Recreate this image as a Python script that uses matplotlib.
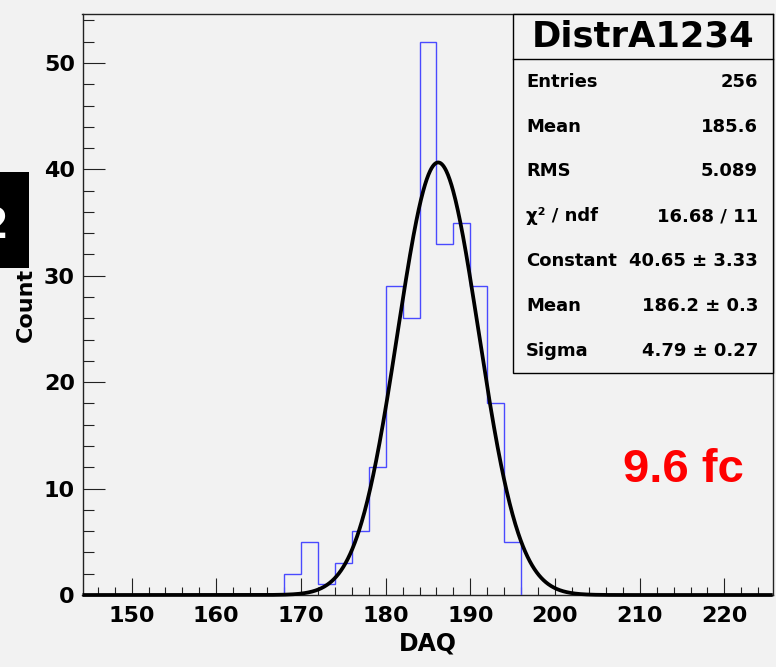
import numpy as np
import matplotlib
matplotlib.use("Agg")
import matplotlib.pyplot as plt
from matplotlib.patches import Rectangle
from matplotlib.ticker import MultipleLocator

# ---------------- data ----------------
bin_edges = [168, 170, 172, 174, 176, 178, 180, 182, 184, 186, 188, 190, 192, 194, 196]
counts = [2, 5, 1, 3, 6, 12, 29, 26, 52, 33, 35, 29, 18, 5]

fit_constant = 40.65
fit_mean = 186.2
fit_sigma = 4.79

stats_title = "DistrA1234"
stats_labels = ["Entries", "Mean", "RMS", "χ² / ndf", "Constant", "Mean", "Sigma"]
stats_values = ["256", "185.6", "5.089", "16.68 / 11", "40.65 ± 3.33", "186.2 ± 0.3", "4.79 ± 0.27"]

x_label = "DAQ"
y_label = "Count"
annotation = "9.6 fc"

x_range = (144.2, 225.7)
y_range = (0, 54.6)

# ---------------- figure ----------------
W, H = 776, 667
bg = "#f2f2f2"
fig = plt.figure(figsize=(W / 100, H / 100), dpi=100, facecolor=bg)
ax = fig.add_axes([82.5 / W, 72 / H, 690.2 / W, 581 / H], facecolor=bg)

ax.set_xlim(*x_range)
ax.set_ylim(*y_range)

# histogram
ax.stairs(counts, bin_edges, color="#4a4aff", lw=1.0, zorder=3)

# gaussian fit curve
xs = np.linspace(x_range[0], x_range[1], 1200)
ys = fit_constant * np.exp(-0.5 * ((xs - fit_mean) / fit_sigma) ** 2)
ax.plot(xs, ys, color="black", lw=2.7, zorder=4, solid_capstyle="butt", clip_on=False)

# ticks
ax.xaxis.set_major_locator(MultipleLocator(10))
ax.xaxis.set_minor_locator(MultipleLocator(2))
ax.yaxis.set_major_locator(MultipleLocator(10))
ax.yaxis.set_minor_locator(MultipleLocator(2))
ax.tick_params(axis="x", which="major", direction="in", length=12, width=0.8,
               color="#222222", pad=8, labelsize=16)
ax.tick_params(axis="x", which="minor", direction="in", length=6, width=0.8, color="#222222")
ax.tick_params(axis="y", which="major", direction="in", length=15.5, width=0.8,
               color="#222222", pad=5.5, labelsize=16)
ax.tick_params(axis="y", which="minor", direction="in", length=8, width=0.8, color="#222222")
for lab in ax.get_xticklabels() + ax.get_yticklabels():
    lab.set_fontfamily("DejaVu Sans")
    lab.set_fontweight("bold")

for s in ["left", "right", "top", "bottom"]:
    ax.spines[s].set_color("#222222")
    ax.spines[s].set_linewidth(1.0)

ax.set_xlabel(x_label, fontsize=17, fontweight="bold", fontfamily="DejaVu Sans")
ax.xaxis.set_label_coords(0.5, -0.062)
ax.set_ylabel(y_label, fontsize=16, fontweight="bold", fontfamily="DejaVu Sans")
ax.yaxis.set_label_coords(-0.068, 0.5)

# ---------------- stats box ----------------
bx0 = (512.7 - 82.5) / 690.2
by0 = (595 - 373.3) / 581
bsep = (595 - 59.3) / 581
box = Rectangle((bx0, by0), 1.0 - bx0, 1.0 - by0, transform=ax.transAxes,
                facecolor=bg, edgecolor="black", lw=1.0, zorder=6, clip_on=False)
ax.add_patch(box)
ax.plot([bx0, 1.0], [bsep, bsep], transform=ax.transAxes, color="black", lw=1.0,
        zorder=7, clip_on=False)
ax.text((bx0 + 1.0) / 2, (bsep + 1.0) / 2, stats_title, transform=ax.transAxes,
        ha="center", va="center", fontsize=25.5, fontweight="bold",
        fontfamily="DejaVu Sans", zorder=8)

row_h = (bsep - by0) / len(stats_labels)
lab_x = (526 - 82.5) / 690.2
val_x = (758 - 82.5) / 690.2
for i, (lab, val) in enumerate(zip(stats_labels, stats_values)):
    yy = bsep - (i + 0.5) * row_h
    ax.text(lab_x, yy, lab, transform=ax.transAxes, ha="left", va="center",
            fontsize=13, fontweight="bold", fontfamily="DejaVu Sans", zorder=8)
    ax.text(val_x, yy, val, transform=ax.transAxes, ha="right", va="center",
            fontsize=13, fontweight="bold", fontfamily="DejaVu Sans", zorder=8)

# red annotation
ax.text((683 - 82.5) / 690.2, (595 - 470) / 581, annotation, transform=ax.transAxes,
        ha="center", va="center", color="red", fontsize=34, fontweight="bold",
        fontfamily="Liberation Sans", zorder=8)

# black block with partial white glyph at left edge
fig.patches.append(Rectangle((0, 1 - 268.3 / H), 29 / W, (268.3 - 171.7) / H,
                             transform=fig.transFigure, facecolor="black",
                             edgecolor="none", zorder=1))
fig.text(9 / W, 1 - 226 / H, "2", ha="right", va="center", color="white",
         fontsize=30, fontweight="bold", fontfamily="DejaVu Sans", zorder=2)

fig.savefig("out.png", dpi=100, facecolor=bg)
